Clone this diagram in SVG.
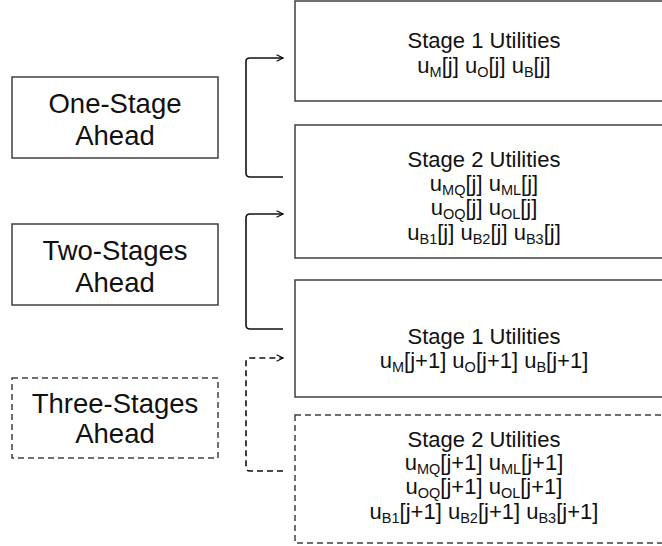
<svg xmlns="http://www.w3.org/2000/svg" width="662" height="546" viewBox="0 0 662 546">
  <style>
    .box { fill: #ffffff; stroke: #404040; stroke-width: 1.5; }
    .dash { stroke-dasharray: 6 4; }
    .lbl { font-family: "Liberation Sans", Arial, sans-serif; font-size: 27.5px; fill: #111; text-anchor: middle; }
    .ut { font-family: "Liberation Sans", Arial, sans-serif; font-size: 22px; fill: #111; text-anchor: middle; }
    .sub { font-size: 14.5px; }
    .conn { fill: none; stroke: #111; stroke-width: 1.6; }
  </style>
  <defs>
    <marker id="arrow" viewBox="0 0 10 10" refX="9" refY="5" markerWidth="8" markerHeight="8" markerUnits="userSpaceOnUse" orient="auto">
      <path d="M1 1 L9 5 L1 9" fill="none" stroke="#111" stroke-width="1.6"/>
    </marker>
  </defs>
  <rect width="662" height="546" fill="#ffffff"/>

  <!-- horizon labels -->
  <g id="one-stage">
    <rect class="box" x="12" y="77" width="206" height="81"/>
    <text class="lbl" x="115" y="113">One-Stage</text>
    <text class="lbl" x="115" y="145">Ahead</text>
  </g>
  <g id="two-stages">
    <rect class="box" x="12" y="224" width="206" height="81"/>
    <text class="lbl" x="115" y="260">Two-Stages</text>
    <text class="lbl" x="115" y="292">Ahead</text>
  </g>
  <g id="three-stages">
    <rect class="box dash" x="12" y="378" width="206" height="80"/>
    <text class="lbl" x="115" y="413">Three-Stages</text>
    <text class="lbl" x="115" y="443">Ahead</text>
  </g>

  <!-- utility blocks -->
  <g id="stage1-j">
    <rect class="box" x="295" y="1" width="380" height="100"/>
    <text class="ut" x="484" y="48">Stage 1 Utilities</text>
    <text class="ut" x="484" y="73">u<tspan class="sub" dy="4">M</tspan><tspan dy="-4">[j] u</tspan><tspan class="sub" dy="4">O</tspan><tspan dy="-4">[j] u</tspan><tspan class="sub" dy="4">B</tspan><tspan dy="-4">[j]</tspan></text>
  </g>
  <g id="stage2-j">
    <rect class="box" x="295" y="125" width="380" height="133"/>
    <text class="ut" x="484" y="167">Stage 2 Utilities</text>
    <text class="ut" x="484" y="191">u<tspan class="sub" dy="4">MQ</tspan><tspan dy="-4">[j] u</tspan><tspan class="sub" dy="4">ML</tspan><tspan dy="-4">[j]</tspan></text>
    <text class="ut" x="484" y="215">u<tspan class="sub" dy="4">OQ</tspan><tspan dy="-4">[j] u</tspan><tspan class="sub" dy="4">OL</tspan><tspan dy="-4">[j]</tspan></text>
    <text class="ut" x="484" y="240">u<tspan class="sub" dy="4">B1</tspan><tspan dy="-4">[j] u</tspan><tspan class="sub" dy="4">B2</tspan><tspan dy="-4">[j] u</tspan><tspan class="sub" dy="4">B3</tspan><tspan dy="-4">[j]</tspan></text>
  </g>
  <g id="stage1-j1">
    <rect class="box" x="295" y="280" width="380" height="117"/>
    <text class="ut" x="484" y="344">Stage 1 Utilities</text>
    <text class="ut" x="484" y="368">u<tspan class="sub" dy="4">M</tspan><tspan dy="-4">[j+1] u</tspan><tspan class="sub" dy="4">O</tspan><tspan dy="-4">[j+1] u</tspan><tspan class="sub" dy="4">B</tspan><tspan dy="-4">[j+1]</tspan></text>
  </g>
  <g id="stage2-j1">
    <rect class="box dash" x="295" y="415" width="380" height="128"/>
    <text class="ut" x="484" y="447">Stage 2 Utilities</text>
    <text class="ut" x="484" y="470">u<tspan class="sub" dy="4">MQ</tspan><tspan dy="-4">[j+1] u</tspan><tspan class="sub" dy="4">ML</tspan><tspan dy="-4">[j+1]</tspan></text>
    <text class="ut" x="484" y="494">u<tspan class="sub" dy="4">OQ</tspan><tspan dy="-4">[j+1] u</tspan><tspan class="sub" dy="4">OL</tspan><tspan dy="-4">[j+1]</tspan></text>
    <text class="ut" x="484" y="519">u<tspan class="sub" dy="4">B1</tspan><tspan dy="-4">[j+1] u</tspan><tspan class="sub" dy="4">B2</tspan><tspan dy="-4">[j+1] u</tspan><tspan class="sub" dy="4">B3</tspan><tspan dy="-4">[j+1]</tspan></text>
  </g>

  <!-- bracket connectors -->
  <g id="connectors">
    <path class="conn" d="M283 177 H250 Q246 177 246 173 V61 Q246 58 250 58 H283" marker-end="url(#arrow)"/>
    <path class="conn" d="M283 329 H250 Q246 329 246 325 V218 Q246 214 250 214 H283" marker-end="url(#arrow)"/>
    <path class="conn dash" d="M283 471 H250 Q246 471 246 467 V362 Q246 358 250 358 H283" marker-end="url(#arrow)"/>
  </g>
</svg>
